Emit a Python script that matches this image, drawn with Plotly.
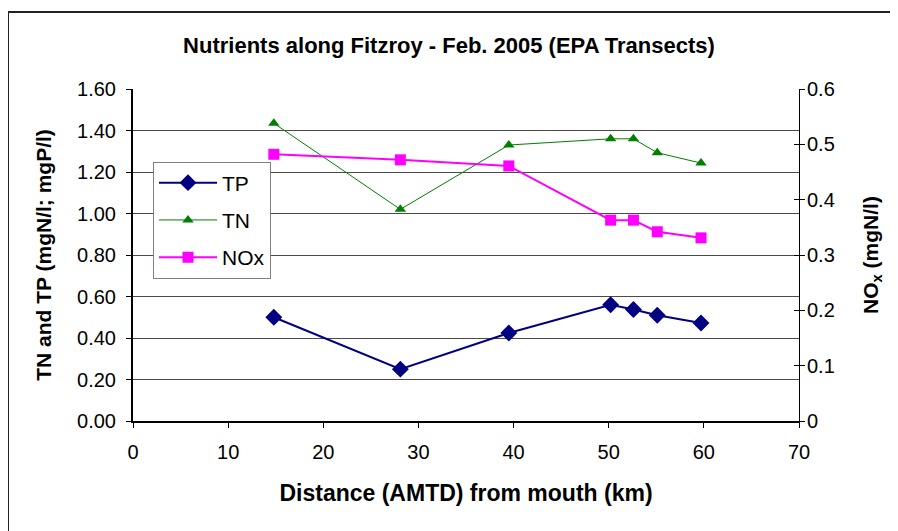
import plotly.graph_objects as go

# Data
distance_km = [14.8, 28.1, 39.5, 50.2, 52.6, 55.1, 59.7]
tp = [0.50, 0.25, 0.424, 0.56, 0.537, 0.51, 0.472]
tn = [1.435, 1.02, 1.33, 1.36, 1.36, 1.293, 1.243]
nox = [0.482, 0.472, 0.461, 0.363, 0.363, 0.342, 0.331]

title_text = "Nutrients along Fitzroy - Feb. 2005 (EPA Transects)"
x_title = "Distance (AMTD) from mouth (km)"
y_left_title = "TN and TP (mgN/l; mgP/l)"
y_right_title = "NO<sub>x</sub> (mgN/l)"

OFF = 8  # default page body margin
W, H = 898 - OFF, 531 - OFF
L, R, T, B = 133 - OFF, 99, 89 - OFF, 110
pw, ph = W - L - R, H - T - B

FONT = "Liberation Sans, Arial, sans-serif"
TICKSIZE = 20

fig = go.Figure()
fig.add_trace(go.Scatter(
    x=distance_km, y=tp, name="TP", mode="lines+markers", legendgroup="a",
    line=dict(color="#000080", width=2),
    marker=dict(symbol="diamond", size=13, color="#000080"),
    yaxis="y"))
fig.add_trace(go.Scatter(
    x=distance_km, y=tn, name="TN", mode="lines+markers", legendgroup="b",
    line=dict(color="#008000", width=1),
    marker=dict(symbol="triangle-up", size=10, color="#008000"),
    yaxis="y"))
fig.add_trace(go.Scatter(
    x=distance_km, y=nox, name="NOx", mode="lines+markers", legendgroup="c",
    line=dict(color="#FF00FF", width=2),
    marker=dict(symbol="square", size=11, color="#FF00FF"),
    yaxis="y2"))
# carrier for the outer half of the crossing ticks on the right axis
fig.add_trace(go.Scatter(x=[None], y=[None], yaxis="y3", showlegend=False, hoverinfo="skip"))

fig.update_layout(
    width=W, height=H,
    margin=dict(l=L, r=R, t=T, b=B, pad=0, autoexpand=False),
    paper_bgcolor="white", plot_bgcolor="white",
    font=dict(family=FONT, size=16, color="black"),
    title=dict(text=f"<b>{title_text}</b>", x=(449 - OFF) / W, xanchor="center",
               y=1 - (45 - OFF) / H, yanchor="middle",
               font=dict(family=FONT, size=22, color="black")),
    xaxis=dict(range=[0, 70], dtick=10, tick0=0, showgrid=False, zeroline=False,
               automargin=False,
               showline=True, linecolor="black", linewidth=2,
               ticks="outside", ticklen=5, tickcolor="black", tickwidth=1,
               ticklabelstandoff=7,
               tickfont=dict(family=FONT, size=TICKSIZE),
               title=dict(text=f"<b>{x_title}</b>", standoff=23,
                          font=dict(family=FONT, size=23))),
    yaxis=dict(range=[0, 1.6], dtick=0.2, tick0=0, tickformat=".2f",
               automargin=False,
               showgrid=True, gridcolor="#4a4a4a", gridwidth=1, zeroline=False,
               showline=True, linecolor="black", linewidth=2,
               ticks="outside", ticklen=5, tickcolor="black",
               ticklabelstandoff=6,
               tickfont=dict(family=FONT, size=TICKSIZE),
               title=dict(text=f"<b>{y_left_title}</b>", standoff=20,
                          font=dict(family=FONT, size=21))),
    yaxis2=dict(range=[0, 0.6], dtick=0.1, tick0=0, overlaying="y", side="right",
                automargin=False,
                showgrid=False, zeroline=False,
                showline=True, linecolor="black", linewidth=1,
                ticks="inside", ticklen=5, tickcolor="black",
                ticklabelstandoff=3,
                tickfont=dict(family=FONT, size=TICKSIZE),
                title=dict(text=f"<b>{y_right_title}</b>", standoff=29,
                           font=dict(family=FONT, size=21))),
    yaxis3=dict(range=[0, 0.6], dtick=0.1, tick0=0, overlaying="y", side="right",
                automargin=False,
                showgrid=False, zeroline=False, showline=False,
                ticks="outside", ticklen=5, tickcolor="black",
                showticklabels=False),
    legend=dict(x=(153 - 133) / pw, y=(421 - 161.5) / ph, xanchor="left", yanchor="top",
                bgcolor="white", bordercolor="#808080", borderwidth=1,
                font=dict(family=FONT, size=21), traceorder="grouped",
                tracegroupgap=7, itemwidth=58),
    showlegend=True,
)

# outer chart border (left and top visible), page coords x=8, y=12
fig.add_shape(type="rect", xref="paper", yref="paper",
              x0=(8 - 133) / pw, x1=1.5, y0=-0.6, y1=(421 - 12) / ph,
              line=dict(color="#222222", width=2), fillcolor="rgba(0,0,0,0)", layer="below")

fig.write_html("out.html")
